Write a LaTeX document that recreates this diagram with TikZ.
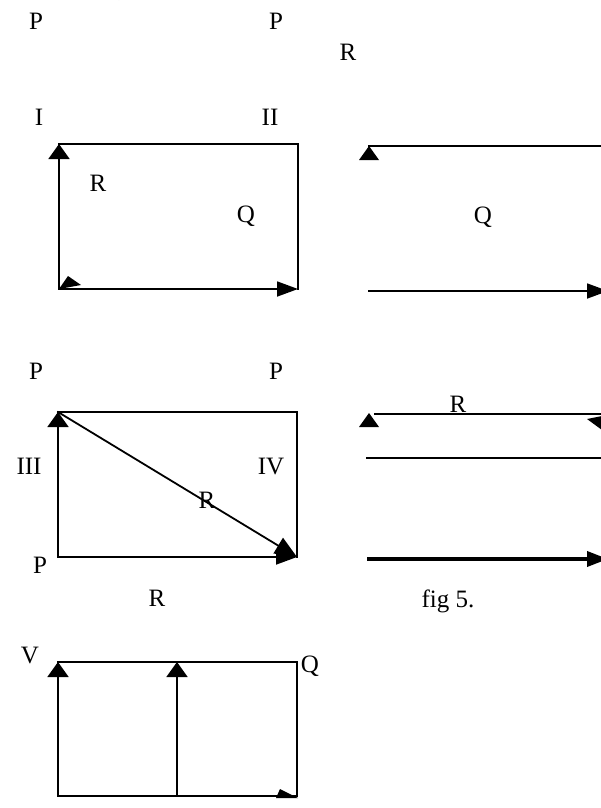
\documentclass[tikz,border=0pt]{standalone}
\usepackage{fontspec}
\setmainfont{Liberation Serif}
\usetikzlibrary{arrows.meta}
\begin{document}
\begin{tikzpicture}[x=1pt,y=-1pt,
  lbl/.style={inner sep=0pt,font=\fontsize{25}{29}\selectfont},
  ln/.style={line width=1.8pt,line cap=rect},
  varr/.style={ln,-{Triangle[width=21pt,length=15pt]}},
  harr/.style={ln,-{Triangle[width=15pt,length=21pt]}},
  darr/.style={ln,-{Triangle[width=18pt,length=22pt]}},
  tri/.style={fill=black}]
\useasboundingbox (0,0) rectangle (600,808);
% ---------- labels, top group
\node[lbl,anchor=base] (qtop) at (113,-3) {Q};
\node[lbl] (p1) at (36,21) {P};
\node[lbl] (p2) at (276,21) {P};
\node[lbl] (r1) at (348,52) {R};
\node[lbl] (n1) at (39,117) {I};
\node[lbl] (n2) at (270,117) {II};
\node[lbl] (r2) at (98,183) {R};
\node[lbl] (q1) at (246,216) {Q};
\node[lbl] (q2) at (483,217) {Q};
% ---------- box 1
\coordinate (a1) at (59,144);
\coordinate (b1) at (298,144);
\coordinate (c1) at (298,289);
\coordinate (d1) at (59,289);
\draw[ln] (a1) -- (b1) -- (c1);
\draw[varr] (d1) -- (a1);
\draw[harr] (d1) -- (c1);
\fill[tri] (d1) -- (81,285) -- (68,276) -- cycle;
% ---------- right panel, top
\coordinate (e1) at (369,146);
\coordinate (e2) at (610,146);
\coordinate (f1) at (369,291);
\coordinate (f2) at (608,291);
\draw[ln] (e1) -- (e2);
\fill[tri] (369,146) -- (379,160) -- (359,160) -- cycle;
\draw[harr] (f1) -- (f2);
% ---------- labels, middle group
\node[lbl] (p3) at (36,371) {P};
\node[lbl] (p4) at (276,371) {P};
\node[lbl] (n3) at (29,466) {III};
\node[lbl] (n4) at (271,466) {IV};
\node[lbl] (r3) at (207,500) {R};
\node[lbl] (p5) at (40,565) {P};
\node[lbl] (r4) at (157,598) {R};
% ---------- box 2
\coordinate (a2) at (58,412);
\coordinate (b2) at (297,412);
\coordinate (c2) at (297,557);
\coordinate (d2) at (58,557);
\draw[ln] (a2) -- (b2) -- (c2);
\draw[varr] (d2) -- (a2);
\draw[harr] (d2) -- (c2);
\draw[darr] (a2) -- (c2);
% ---------- right panel, middle
\node[lbl] (r5) at (458,404) {R};
\coordinate (g1) at (375,414);
\coordinate (g2) at (610,414);
\draw[ln] (g1) -- (g2);
\fill[tri] (369,413) -- (379,427) -- (359,427) -- cycle;
\fill[tri] (587,419) -- (602,416) -- (602,430) -- cycle;
\coordinate (h1) at (367,458);
\coordinate (h2) at (610,458);
\draw[ln] (h1) -- (h2);
\coordinate (k1) at (369,559);
\coordinate (k2) at (608,559);
\draw[ln,line width=3.6pt,-{Triangle[width=15pt,length=21pt]}] (k1) -- (k2);
\node[lbl,anchor=base] (fig) at (448,607) {fig 5.};
% ---------- bottom group
\node[lbl] (v1) at (30,655) {V};
\node[lbl] (q3) at (310,666) {Q};
\coordinate (a3) at (58,662);
\coordinate (b3) at (297,662);
\coordinate (c3) at (297,796);
\coordinate (d3) at (58,796);
\coordinate (m1) at (177,794);
\coordinate (m2) at (177,662);
\draw[ln] (a3) -- (b3) -- (c3);
\draw[varr] (d3) -- (a3);
\draw[varr] (m1) -- (m2);
\draw[ln] (d3) -- (c3);
\fill[tri] (276,798) -- (298,798) -- (280,789) -- cycle;
\end{tikzpicture}
\end{document}
